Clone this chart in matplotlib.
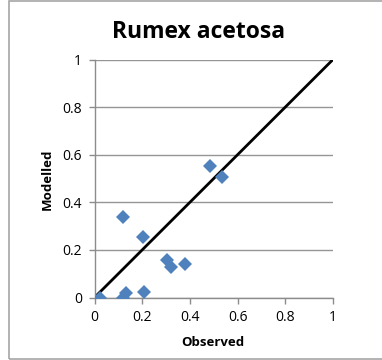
import matplotlib.pyplot as plt
from matplotlib.patches import Rectangle

observed = [0.025, 0.118, 0.132, 0.12, 0.205, 0.207, 0.305, 0.322, 0.378, 0.483, 0.536]
modelled = [0.0, 0.0, 0.017, 0.34, 0.253, 0.024, 0.156, 0.13, 0.14, 0.552, 0.508]
ticks = [0, 0.2, 0.4, 0.6, 0.8, 1]
tick_labels = ['0', '0.2', '0.4', '0.6', '0.8', '1']

plt.rcParams['font.family'] = ['Open Sans', 'DejaVu Sans']

fig = plt.figure(figsize=(3.82, 3.6), dpi=100)
ax = fig.add_axes([94.5 / 382, 62.5 / 360, 238.5 / 382, 238 / 360])

# chart frame
fig.patches.append(Rectangle((8.5 / 382, 1 / 360), 1.0, 358 / 360, transform=fig.transFigure,
                             fill=False, edgecolor='#a6a6a6', linewidth=1.2))

ax.plot([0, 1], [0, 1], color='black', linewidth=2, zorder=2, solid_capstyle='butt')
ax.plot(observed, modelled, linestyle='none', marker='D', markersize=7.5,
        color='#4f81bd', markeredgewidth=0, zorder=3)

ax.set_xlim(0, 1)
ax.set_ylim(0, 1)
ax.set_xticks(ticks)
ax.set_xticklabels(tick_labels)
ax.set_yticks(ticks)
ax.set_yticklabels(tick_labels)
ax.grid(axis='y', color='#959595', linewidth=1)
ax.set_axisbelow(True)
for s in ['top', 'right']:
    ax.spines[s].set_visible(False)
for s in ['left', 'bottom']:
    ax.spines[s].set_color('#8c8c8c')
    ax.spines[s].set_linewidth(1)
ax.tick_params(direction='out', length=4, width=1, color='#8c8c8c', labelsize=10, pad=5)

fig.text(199 / 382, 1 - 32 / 360, 'Rumex acetosa', ha='center', va='center',
         fontsize=16.5, fontweight='bold')
fig.text(213 / 382, 1 - 342 / 360, 'Observed', ha='center', va='center',
         fontsize=9.5, fontweight='bold')
fig.text(47 / 382, 1 - 179 / 360, 'Modelled', ha='center', va='center',
         fontsize=9.5, fontweight='bold', rotation=90)

fig.savefig('out.png', dpi=100)
